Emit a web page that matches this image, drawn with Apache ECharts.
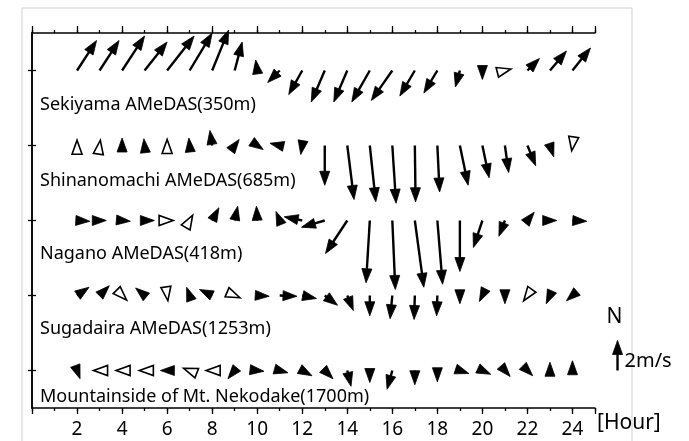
<!DOCTYPE html>
<html><head><meta charset="utf-8">
<script src="https://cdn.jsdelivr.net/npm/echarts@6/dist/echarts.min.js"></script>
<style>html,body{margin:0;padding:0;background:#fff}#c{width:689px;height:441px}</style>
</head><body><div id="c"></div>
<script>
// ---- data (wind components in m/s, u = east, v = north) ----
const hours = [2,3,4,5,6,7,8,9,10,11,12,13,14,15,16,17,18,19,20,21,22,23,24];
const stations = ['Sekiyama AMeDAS(350m)','Shinanomachi AMeDAS(685m)','Nagano AMeDAS(418m)','Sugadaira AMeDAS(1253m)','Mountainside of Mt. Nekodake(1700m)'];
const xTickLabels = [2,4,6,8,10,12,14,16,18,20,22,24];

const sekiyamaU = [1.3,1.3,1.5,1.5,1.8,1.5,1.1,0.5,-0.1,-0.8,-0.9,-0.9,-0.9,-1.2,-1.4,-1.0,-0.9,-0.3,0.0,0.4,0.8,1.1,1.2];
const sekiyamaV = [2.0,2.0,2.3,1.9,2.3,2.5,2.7,1.9,0.7,-0.8,-1.6,-2.1,-2.1,-2.1,-2.0,-1.7,-1.5,-1.1,-0.6,0.1,0.8,1.3,1.5];
const shinanomachiU = [0.0,0.05,0.0,-0.05,0.0,-0.05,-0.15,0.3,0.4,-0.65,-0.1,0.0,0.45,0.4,0.25,0.05,0.15,0.55,0.45,0.25,0.55,0.25,-0.05];
const shinanomachiV = [0.35,0.35,0.5,0.45,0.4,0.5,1.0,0.4,-0.27,0.15,-0.6,-2.65,-3.6,-3.75,-3.85,-3.75,-3.1,-2.65,-2.15,-1.8,-1.35,-0.75,-0.35];
const naganoU = [0.85,0.45,0.55,0.65,0.4,0.2,0.45,0.2,-0.05,-0.25,-1.2,-1.55,-1.45,-0.25,0.2,0.6,0.35,0.0,-0.6,-0.4,0.45,0.45,0.95];
const naganoV = [-0.05,0.0,-0.05,0.0,0.0,0.35,0.85,0.95,0.95,0.6,0.25,-0.45,-2.2,-4.15,-4.6,-4.45,-4.25,-3.4,-1.8,-1.05,0.55,0.0,-0.05];
const sugadairaU = [0.8,0.65,0.3,-0.6,0.05,-0.2,-0.85,0.35,0.8,1.15,0.95,0.85,0.4,0.0,-0.15,-0.05,-0.05,0.0,-0.2,0.0,-0.25,-0.25,-0.4];
const sugadairaV = [0.55,0.65,-0.3,0.5,-0.35,0.55,0.4,-0.15,-0.05,-0.05,-0.2,-0.65,-1.0,-1.35,-1.55,-1.6,-1.35,-0.55,-0.4,-0.55,-0.35,-0.55,-0.35];
const nekodakeU = [0.2,-0.4,-0.4,-0.35,-0.45,-0.4,-0.4,-0.45,0.45,0.55,0.65,0.55,0.25,0.0,-0.35,0.0,0.0,0.6,0.55,0.35,0.35,0.0,0.0];
const nekodakeV = [-0.55,0.0,0.0,0.0,0.0,0.15,0.0,-0.55,-0.05,-0.15,-0.35,-0.55,-1.05,-0.8,-1.25,-0.95,-0.75,-0.2,-0.25,-0.4,-0.35,0.55,0.65];

const legendSpeed = 2; // m/s reference arrow

// ---- build ----
const comps = [[sekiyamaU,sekiyamaV],[shinanomachiU,shinanomachiV],[naganoU,naganoV],[sugadairaU,sugadairaV],[nekodakeU,nekodakeV]];
const arrowData = [];
comps.forEach(function(c, r){
  hours.forEach(function(h, i){ arrowData.push([h, r, c[0][i], c[1][i]]); });
});

const MS_PER_BAND = 0.2;   // 1 m/s = 0.2 of a row band
const HEAD_LEN = 14, HEAD_W = 10, STEM_W = 2.4;
const FONT = 'Noto Sans';
const labelDy = [34, 35, 33, 33, 26];

function arrowShapes(p, u, v, k) {
  const dx = u * k, dy = -v * k;
  const len = Math.hypot(dx, dy);
  const ux = dx / len, uy = dy / len;
  const tip = [p[0] + dx, p[1] + dy];
  const base = [tip[0] - ux * HEAD_LEN, tip[1] - uy * HEAD_LEN];
  const nx = -uy * HEAD_W / 2, ny = ux * HEAD_W / 2;
  const hollow = len < 6.5;
  const els = [];
  if (len > HEAD_LEN) {
    els.push({type:'line', shape:{x1:p[0], y1:p[1], x2:base[0]+ux*2, y2:base[1]+uy*2},
      style:{stroke:'#000', lineWidth:STEM_W}});
  }
  els.push({type:'polygon', shape:{points:[tip,[base[0]+nx,base[1]+ny],[base[0]-nx,base[1]-ny]]},
    style: hollow ? {fill:'#fff', stroke:'#000', lineWidth:1.6} : {fill:'#000', stroke:'#000', lineWidth:0.8}});
  return els;
}

const chart = echarts.init(document.getElementById('c'), null, {renderer:'canvas'});

const axisLineStyle = {color:'#000', width:1.5};
function xAx(pos, interval, tickLen, main) {
  return {
    type:'value', position:pos, min:0, max:25, interval:interval,
    axisLine:{show:main, lineStyle:axisLineStyle},
    axisTick:{show:true, length:tickLen, inside:false, lineStyle:{color:'#000', width:1.3}},
    axisLabel:{show: main && pos==='bottom', margin:12, color:'#000', fontSize:19, fontFamily:FONT,
      formatter:function(v){ return xTickLabels.indexOf(v) >= 0 ? String(v) : ''; }},
    splitLine:{show:false}
  };
}
function yAx(pos) {
  return {
    type:'category', position:pos, data:stations, inverse:true,
    axisLine:{show:true, lineStyle:axisLineStyle},
    axisTick:{show:true, alignWithLabel:true, length:4, lineStyle:{color:'#000', width:1.3}},
    axisLabel:{show:false}, splitLine:{show:false}
  };
}

chart.setOption({
  animation:false,
  backgroundColor:'#fff',
  grid:{left:32, right:94, top:33, bottom:33, containLabel:false},
  xAxis:[xAx('bottom',2,6,true), xAx('bottom',1,3,false), xAx('top',2,7,true), xAx('top',1,3,false)],
  yAxis:[yAx('left'), yAx('right')],
  graphic:[
    {type:'rect', shape:{x:22, y:8, width:610, height:460}, style:{fill:'none', stroke:'#cfcfcf', lineWidth:1}, z:-10, silent:true},
    {type:'text', left:597, top:413, style:{text:'[Hour]', fontSize:21, fontFamily:FONT, fill:'#000'}}
  ],
  series:[
    {
      type:'custom', coordinateSystem:'cartesian2d', xAxisIndex:0, yAxisIndex:0, clip:false,
      data:arrowData,
      renderItem:function(params, api){
        const p = api.coord([api.value(0), api.value(1)]);
        const k = api.size([0, 1])[1] * MS_PER_BAND;
        return {type:'group', children:arrowShapes(p, api.value(2), api.value(3), k)};
      }
    },
    {
      type:'custom', coordinateSystem:'cartesian2d', xAxisIndex:0, yAxisIndex:0, clip:false,
      data:stations.map(function(s, r){ return [0, r]; }),
      renderItem:function(params, api){
        const r = api.value(1);
        const p = api.coord([0, r]);
        return {type:'text', x:p[0] + 8, y:p[1] + labelDy[r],
          style:{text:stations[r], fontSize:18, fontFamily:FONT, fill:'#000', verticalAlign:'middle', align:'left'}};
      }
    },
    {
      type:'custom', coordinateSystem:'cartesian2d', xAxisIndex:0, yAxisIndex:0, clip:false,
      data:[[26, 4, 0, legendSpeed]],
      renderItem:function(params, api){
        const p = api.coord([api.value(0), api.value(1)]);
        const k = api.size([0, 1])[1] * MS_PER_BAND;
        const els = arrowShapes(p, api.value(2), api.value(3), k);
        els.push({type:'text', x:p[0] - 3, y:p[1] - 53, style:{text:'N', fontSize:21, fontFamily:FONT, fill:'#000', align:'center', verticalAlign:'middle'}});
        els.push({type:'text', x:p[0] + 7, y:p[1] - 9, style:{text:legendSpeed + 'm/s', fontSize:20, fontFamily:FONT, fill:'#000', align:'left', verticalAlign:'middle'}});
        return {type:'group', children:els};
      }
    }
  ]
});
</script></body></html>
